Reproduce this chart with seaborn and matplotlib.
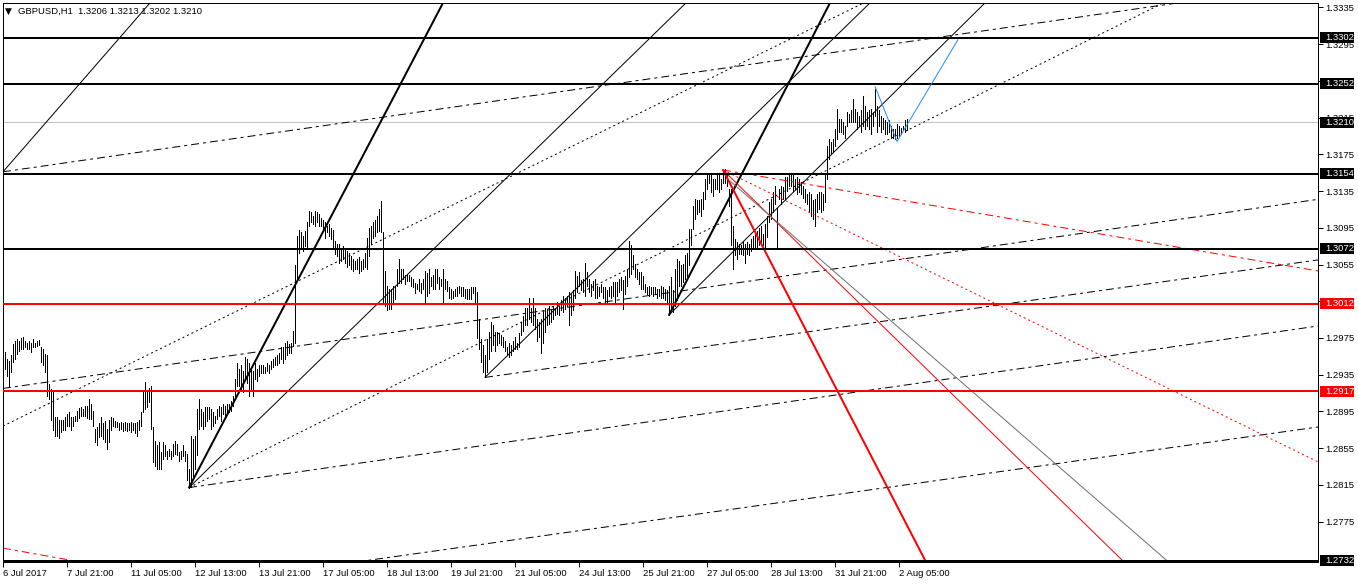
import numpy as np
import pandas as pd
import matplotlib
matplotlib.use("Agg")
import matplotlib.pyplot as plt
from matplotlib.patches import Rectangle
import seaborn as sns

sns.set_theme(style="white")
plt.rcParams["font.family"] = ["Liberation Sans", "DejaVu Sans"]

# GBPUSD H1 bars, highs and lows in points (1 point = 0.0001)
high_pts = [
    12970, 12960, 12952, 12950, 12956, 12968, 12972, 12974, 12972, 12975,
    12976, 12972, 12970, 12972, 12970, 12974, 12970, 12972, 12973, 12965,
    12963, 12958, 12956, 12925, 12919, 12917, 12889, 12889, 12886, 12886,
    12886, 12889, 12892, 12894, 12889, 12889, 12890, 12895, 12899, 12900,
    12898, 12901, 12901, 12909, 12903, 12895, 12876, 12878, 12882, 12889,
    12882, 12884, 12876, 12886, 12889, 12888, 12885, 12883, 12882, 12883,
    12882, 12883, 12882, 12882, 12883, 12882, 12882, 12883, 12886, 12894,
    12917, 12927, 12916, 12921, 12923, 12878, 12863, 12858, 12862, 12851,
    12862, 12858, 12852, 12854, 12852, 12859, 12863, 12859, 12851, 12852,
    12858, 12852, 12849, 12832, 12868, 12865, 12868, 12898, 12909, 12898,
    12894, 12900, 12900, 12900, 12898, 12894, 12890, 12898, 12901, 12900,
    12903, 12901, 12903, 12903, 12906, 12912, 12930,
    12948, 12941, 12946, 12939, 12954, 12952, 12948, 12941, 12939, 12948,
    12941, 12945, 12946, 12945, 12943, 12948, 12946, 12950, 12952, 12954,
    12956, 12959, 12965, 12965, 12970, 12972, 12968, 12970, 12983, 13054,
    13086, 13093, 13090, 13086, 13092, 13101, 13113, 13112, 13108, 13113,
    13112, 13110, 13106, 13103, 13101, 13097, 13099, 13095, 13093, 13081,
    13077, 13077, 13073, 13075, 13073, 13070, 13068, 13064, 13061, 13059,
    13061, 13063, 13059, 13061, 13068, 13084, 13095, 13097, 13101, 13104,
    13108, 13115, 13124, 13090, 13048, 13032, 13028, 13028, 13032, 13032,
    13050, 13061, 13050, 13050, 13044, 13044, 13044, 13041, 13039, 13035,
    13034, 13039, 13035, 13039, 13048, 13046, 13050, 13041, 13044, 13050,
    13050, 13041, 13039, 13050, 13039, 13037, 13030, 13028, 13026, 13028,
    13030, 13032, 13030, 13030, 13028, 13028, 13028, 13030, 13030, 13030,
    13025,
    12996, 12974, 12967, 12956, 12974, 12981, 12992, 12989, 12981, 12981,
    12980, 12978, 12976, 12972, 12965, 12969, 12967, 12972, 12976, 12970,
    12980, 12992, 12999, 13008, 13008, 13018, 13008, 13018, 13008, 12996,
    12992, 12996, 13003, 13008, 13007, 13010, 13007, 13010, 13008, 13014,
    13010, 13016, 13021, 13019, 13021, 13025, 13023, 13027, 13048, 13043,
    13047, 13038, 13039, 13057, 13047, 13039, 13034, 13037, 13039, 13032,
    13030, 13034, 13030, 13030, 13027, 13030, 13032, 13036, 13036, 13036,
    13039, 13041, 13038, 13043, 13050, 13081, 13076, 13065, 13056, 13050,
    13047, 13047, 13043, 13034, 13030, 13032, 13030, 13030, 13030, 13028,
    13028, 13032, 13030, 13028, 13027, 13032, 13041, 13027, 13050, 13061,
    13059, 13054, 13056, 13065, 13067, 13094, 13094, 13119, 13126, 13125,
    13125,
    13126, 13134, 13148, 13154, 13155, 13152, 13148, 13148, 13152, 13152,
    13148, 13158, 13159, 13154, 13137, 13137, 13097, 13083, 13079, 13077,
    13076, 13079, 13077, 13079, 13077, 13083, 13086, 13088, 13092, 13095,
    13097, 13088, 13099, 13108, 13123, 13126, 13134, 13141, 13117, 13137,
    13141, 13139, 13150, 13150, 13152, 13154, 13152, 13148, 13150, 13148,
    13145, 13141, 13137, 13132, 13134, 13132, 13125, 13126, 13132, 13134,
    13134, 13132, 13155, 13184, 13192, 13188, 13192, 13203, 13224, 13213,
    13213, 13210, 13206, 13221, 13219, 13223, 13235, 13224, 13221, 13217,
    13223, 13239, 13228, 13221, 13223, 13224, 13221, 13246, 13228, 13223,
    13217, 13215, 13212, 13210, 13212, 13206, 13203, 13203, 13208, 13206,
    13204, 13206, 13212, 13213,
]
low_pts = [
    12952, 12941, 12933, 12923, 12938, 12949, 12952, 12958, 12961, 12963,
    12963, 12965, 12963, 12963, 12960, 12965, 12965, 12966, 12967, 12949,
    12946, 12938, 12912, 12909, 12886, 12875, 12868, 12868, 12866, 12873,
    12875, 12875, 12879, 12879, 12875, 12879, 12884, 12885, 12888, 12890,
    12890, 12890, 12888, 12887, 12887, 12879, 12862, 12858, 12867, 12868,
    12865, 12862, 12854, 12862, 12875, 12879, 12878, 12878, 12875, 12876,
    12874, 12875, 12874, 12875, 12872, 12875, 12871, 12868, 12875, 12879,
    12894, 12898, 12900, 12905, 12876, 12840, 12836, 12832, 12832, 12832,
    12843, 12846, 12843, 12846, 12843, 12846, 12849, 12847, 12841, 12843,
    12846, 12841, 12820, 12812, 12813, 12825, 12832, 12847, 12876, 12879,
    12876, 12879, 12885, 12887, 12876, 12879, 12882, 12887, 12890, 12885,
    12892, 12889, 12892, 12894, 12895, 12901, 12912,
    12923, 12923, 12919, 12916, 12930, 12926, 12912, 12919, 12912, 12930,
    12928, 12934, 12937, 12937, 12937, 12939, 12937, 12941, 12943, 12945,
    12946, 12948, 12952, 12948, 12952, 12956, 12959, 12959, 12966, 12970,
    13039, 13068, 13072, 13070, 13075, 13074, 13097, 13101, 13099, 13097,
    13101, 13097, 13097, 13093, 13084, 13090, 13086, 13083, 13073, 13066,
    13064, 13057, 13059, 13061, 13057, 13052, 13054, 13050, 13048, 13050,
    13050, 13046, 13048, 13050, 13052, 13050, 13064, 13077, 13084, 13086,
    13090, 13092, 13090, 13014, 13010, 13005, 13006, 13006, 13012, 13017,
    13032, 13035, 13035, 13039, 13034, 13037, 13037, 13032, 13030, 13024,
    13028, 13026, 13024, 13028, 13012, 13021, 13024, 13032, 13028, 13028,
    13035, 13028, 13032, 13012, 13028, 13026, 13019, 13017, 13019, 13021,
    13021, 13024, 13021, 13021, 13019, 13017, 13017, 13017, 13024, 13014,
    12975,
    12963, 12949, 12938, 12932, 12938, 12952, 12961, 12967, 12961, 12967,
    12969, 12967, 12965, 12961, 12956, 12954, 12956, 12961, 12963, 12963,
    12965, 12978, 12983, 12989, 12989, 12996, 12992, 12989, 12985, 12972,
    12976, 12959, 12970, 12981, 12989, 12990, 12992, 12996, 13000, 13001,
    13000, 13005, 13003, 13007, 13010, 12989, 13000, 13005, 13018, 13025,
    13032, 13027, 13025, 13021, 13032, 13025, 13021, 13027, 13018, 13018,
    13021, 13025, 13018, 13014, 13014, 13021, 13018, 13021, 13014, 13021,
    13025, 13027, 13007, 13023, 13032, 13041, 13045, 13050, 13041, 13039,
    13034, 13028, 13028, 13025, 13023, 13021, 13023, 13021, 13023, 13019,
    13021, 13019, 13018, 13016, 13014, 13000, 13005, 13003, 13010, 13016,
    13032, 13032, 13036, 13039, 13043, 13054, 13076, 13094, 13105, 13110,
    13112,
    13108, 13115, 13126, 13137, 13144, 13134, 13130, 13137, 13137, 13134,
    13137, 13144, 13144, 13141, 13119, 13076, 13050, 13065, 13061, 13066,
    13066, 13065, 13057, 13066, 13065, 13070, 13072, 13074, 13072, 13076,
    13076, 13076, 13072, 13085, 13101, 13105, 13112, 13121, 13072, 13126,
    13121, 13126, 13126, 13135, 13141, 13141, 13135, 13137, 13132, 13134,
    13132, 13128, 13123, 13121, 13112, 13108, 13105, 13097, 13112, 13115,
    13112, 13114, 13123, 13148, 13170, 13177, 13179, 13184, 13192, 13199,
    13199, 13197, 13193, 13206, 13210, 13210, 13210, 13210, 13203, 13206,
    13199, 13206, 13203, 13206, 13203, 13197, 13206, 13217, 13199, 13206,
    13199, 13203, 13197, 13197, 13199, 13193, 13193, 13192, 13193, 13195,
    13197, 13201, 13199, 13202,
]

tick_bars = [0, 32, 64, 96, 128, 160, 192, 224, 256, 288, 320, 352, 384, 416, 448]
tick_labels = ["6 Jul 2017", "7 Jul 21:00", "11 Jul 05:00", "12 Jul 13:00", "13 Jul 21:00",
               "17 Jul 05:00", "18 Jul 13:00", "19 Jul 21:00", "21 Jul 05:00", "24 Jul 13:00",
               "25 Jul 21:00", "27 Jul 05:00", "28 Jul 13:00", "31 Jul 21:00", "2 Aug 05:00"]
price_ticks = [1.2775, 1.2815, 1.2855, 1.2895, 1.2935, 1.2975, 1.3015, 1.3055,
               1.3095, 1.3135, 1.3175, 1.3215, 1.3255, 1.3295, 1.3335]

levels = [1.3302, 1.3252, 1.3154, 1.3072, 1.3012, 1.2917, 1.2732]
level_colors = ["black", "black", "black", "black", "red", "red", "black"]
last_price = 1.3210
title = "GBPUSD,H1  1.3206 1.3213 1.3202 1.3210"

# fans and trend lines: a start point and a second point on the line
line_bar0 = [93, 93, 93, 93, 333, 333, 241, 241,
             0, 0, 0, 0, 183.5,
             360, 360, 360, 360, 0, 363.5]
line_p0 = [1.2812, 1.2812, 1.2812, 1.2812, 1.3000, 1.3000, 1.2932, 1.2932,
           1.3156, 1.3156, 1.2879, 1.2920, 1.2733,
           1.3158, 1.3158, 1.3158, 1.3158, 1.2746, 1.3146]
line_bar1 = [220, 341.5, 349.5, 657.5, 413.5, 491, 657.5, 433.5,
             73.5, 581, 428.5, 657.5, 657.5,
             461, 559.5, 657.5, 657.5, 33.5, 401]
line_p1 = [1.3340, 1.3340, 1.3090, 1.2988, 1.3340, 1.3340, 1.3060, 1.3340,
           1.3340, 1.3338, 1.3338, 1.3126, 1.2878,
           1.2733, 1.2733, 1.2840, 1.3048, 1.2733, 1.3075]
line_kind = ["thick", "thin", "dot", "dashdot", "thick", "thin", "dashdot", "thin",
             "thin", "dashdot", "dot", "dashdot", "dashdot",
             "thick", "thin", "dot", "dashdot", "dashdot", "thin"]
line_color = ["black"] * 13 + ["red"] * 5 + ["#707070"]
line_is_ray = [True] * 8 + [False] * 5 + [True] * 4 + [False, True]

# zigzag projection
zz_bars = [436, 447, 477.5]
zz_prices = [1.3249, 1.3189, 1.3300]

W, H = 1358, 584
PX = 0.72  # one pixel in points
fig = plt.figure(figsize=(W / 100, H / 100), dpi=100)
fig.patch.set_facecolor("white")
ax = fig.add_axes([3 / W, 22 / H, 1315 / W, 559 / H])
ax.set_facecolor("white")

# bars as vertical low-high segments
n = len(high_pts)
bars = pd.DataFrame({
    "bar": np.repeat(np.arange(n), 2),
    "price": np.column_stack([low_pts, high_pts]).ravel() / 1e4,
    "unit": np.repeat(np.arange(n), 2),
})
sns.lineplot(data=bars, x="bar", y="price", units="unit", estimator=None, sort=False,
             color="black", lw=PX, antialiased=False, legend=False, ax=ax)

ax.axhline(last_price, color="#c0c0c0", lw=PX, zorder=1.5)
for lv, c in zip(levels, level_colors):
    ax.axhline(lv, color=c, lw=2 * PX, antialiased=False, zorder=3)

styles = {
    "thick": dict(lw=2 * PX, ls="-"),
    "thin": dict(lw=PX, ls="-"),
    "dot": dict(lw=PX, ls=(0, (2, 3))),
    "dashdot": dict(lw=PX, ls=(0, (8, 4, 3, 4))),
}
for b0, p0, b1, p1, kind, col, ray in zip(line_bar0, line_p0, line_bar1, line_p1,
                                          line_kind, line_color, line_is_ray):
    if ray:
        slope = (p1 - p0) / (b1 - b0)
        ax.plot([b0, 720], [p0, p0 + slope * (720 - b0)], color=col, zorder=2.5, **styles[kind])
    else:
        ax.axline((b0, p0), (b1, p1), color=col, zorder=2.5, **styles[kind])

sns.lineplot(x=zz_bars, y=zz_prices, sort=False, color="#1e90ff", lw=PX, ax=ax, zorder=4)

ax.set_xlim(0, 657.5)
ax.set_ylim(1.27309, 1.33399)
ax.grid(False)
ax.set_xlabel("")
ax.set_ylabel("")

ax.set_xticks(tick_bars)
ax.set_xticklabels(tick_labels, ha="left")
ax.yaxis.tick_right()
ax.set_yticks(price_ticks)
ax.set_yticklabels([f"{v:.4f}" for v in price_ticks])
ax.tick_params(axis="x", bottom=True, top=False, direction="out", length=3.5, width=PX,
               color="black", labelsize=6.8, pad=1.5, labelcolor="black")
ax.tick_params(axis="y", right=True, left=False, labelright=True, labelleft=False,
               direction="out", length=3.5, width=PX, color="black", labelsize=6.8,
               pad=1.5, labelcolor="black")
for s in ax.spines.values():
    s.set_visible(True)
    s.set_color("black")
    s.set_linewidth(PX)

# price labels for the horizontal levels
tr = ax.get_yaxis_transform()
box_levels = levels + [last_price]
box_colors = level_colors + ["black"]
for lv, c in zip(box_levels, box_colors):
    ax.add_patch(Rectangle((1.0015, lv - 0.0006), 0.0262, 0.0012, transform=tr,
                           facecolor=c, edgecolor="none", clip_on=False, zorder=5))
    ax.text(1.0055, lv, f"{lv:.4f}", transform=tr, color="white", fontsize=6.8,
            va="center", ha="left", clip_on=False, zorder=6)

fig.text(5 / W, 1 - 11 / H, "\u25bc", fontsize=6.5, va="center", ha="left", color="black",
         family=["DejaVu Sans"])
fig.text(18 / W, 1 - 11 / H, title, fontsize=6.8, va="center", ha="left", color="black")

fig.savefig("out.png", dpi=100, facecolor="white")
